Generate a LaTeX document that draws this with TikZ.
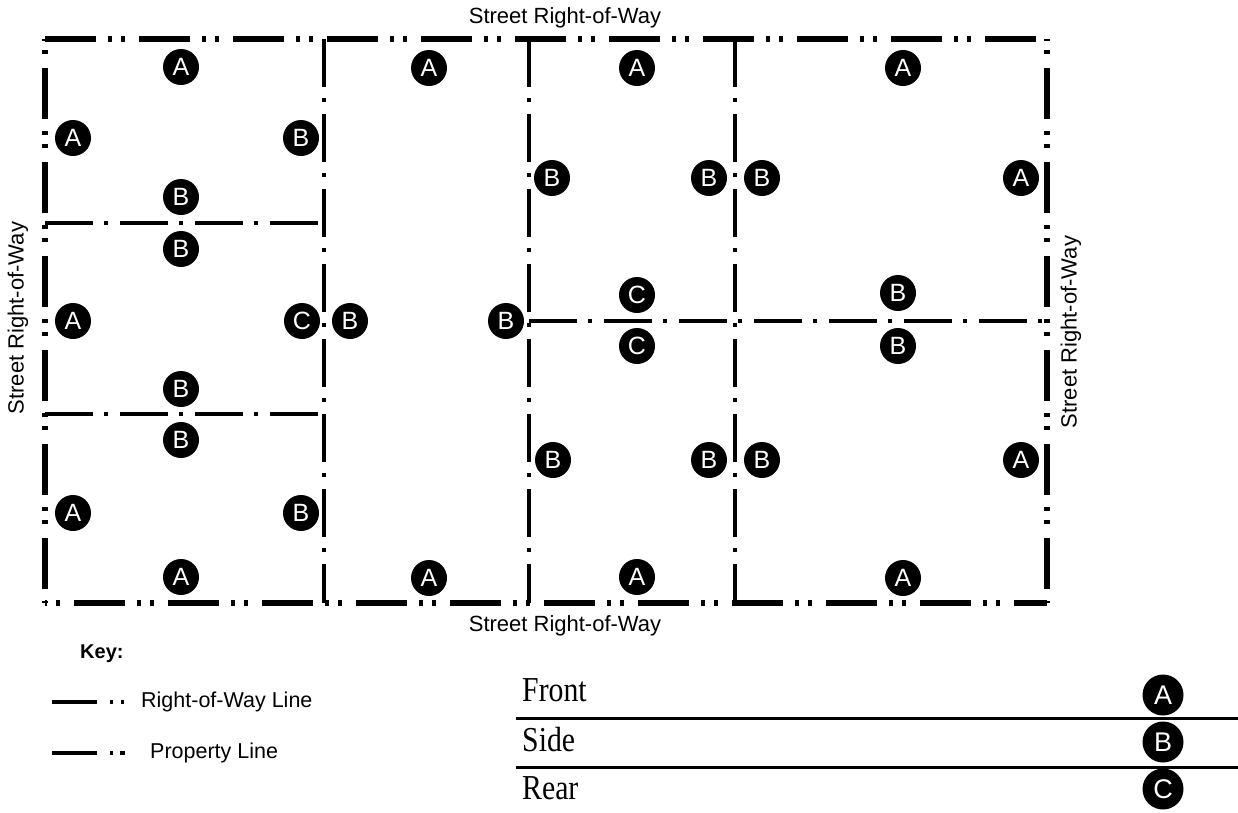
\documentclass[tikz,border=0pt]{standalone}
\usepackage{fontspec}
\setmainfont{Liberation Sans}
\newfontfamily\tabserif[FakeStretch=0.85]{Liberation Serif}
\usetikzlibrary{shapes.geometric}
\begin{document}
\begin{tikzpicture}[x=1pt,y=-1pt,
  rowline/.style={line width=5.5pt, dash pattern=on 51pt off 12pt on 4pt off 9pt on 4pt off 14pt},
  propline/.style={line width=3.8pt, dash pattern=on 48pt off 11pt on 4pt off 12pt},
  lbl/.style={circle, fill=black, text=white, minimum size=36pt, inner sep=0pt, font=\fontsize{25}{25}\selectfont},
  tlbl/.style={circle, fill=black, text=white, minimum size=41pt, inner sep=0pt, font=\fontsize{27}{27}\selectfont},
  street/.style={font=\fontsize{22}{22}\selectfont, inner sep=0pt},
  keytext/.style={font=\fontsize{21.5}{21.5}\selectfont, anchor=west, inner sep=0pt},
  tbl/.style={font=\tabserif\fontsize{35}{35}\selectfont, anchor=west, inner sep=0pt},
  tabrule/.style={line width=3pt}]
\useasboundingbox (0,0) rectangle (1238,812);

% corners and junctions
\coordinate (tl) at (45,39);
\coordinate (tr) at (1047,39);
\coordinate (bl) at (45,603);
\coordinate (br) at (1047,603);
\coordinate (t2) at (324,39);  \coordinate (b2) at (324,603);
\coordinate (t3) at (529,39);  \coordinate (b3) at (529,603);
\coordinate (t4) at (735,39);  \coordinate (b4) at (735,603);
\coordinate (l1) at (45,223);  \coordinate (m1) at (324,223);
\coordinate (l2) at (45,414);  \coordinate (m2) at (324,414);
\coordinate (m3) at (529,321); \coordinate (r3) at (1047,321);

% property lines
\draw[propline] (t2) -- (b2);
\draw[propline] (t3) -- (b3);
\draw[propline] (t4) -- (b4);
\draw[propline] (l1) -- (m1);
\draw[propline] (l2) -- (m2);
\draw[propline] (m3) -- (r3);

% right-of-way lines
\draw[rowline] (tl) -- (tr);
\draw[rowline, dash phase=65pt] (tl) -- (bl);
\draw[rowline, dash phase=65pt] (bl) -- (br);
\draw[rowline, dash phase=65pt] (tr) -- (br);

% street labels
\node[street] (st) at (565,18) {Street Right-of-Way};
\node[street] (sb) at (565,626) {Street Right-of-Way};
\node[street, rotate=90] (sl) at (18,318) {Street Right-of-Way};
\node[street, rotate=90] (sr) at (1071,332) {Street Right-of-Way};

% setback labels
\node[lbl] (a1) at (181,67) {A};
\node[lbl] (a2) at (429,68) {A};
\node[lbl] (a3) at (637,68) {A};
\node[lbl] (a4) at (903,68) {A};
\node[lbl] (a5) at (73,138) {A};
\node[lbl] (a6) at (73,321) {A};
\node[lbl] (a7) at (73,513) {A};
\node[lbl] (a8) at (1021,178) {A};
\node[lbl] (a9) at (1021,460) {A};
\node[lbl] (a10) at (181,577) {A};
\node[lbl] (a11) at (429,578) {A};
\node[lbl] (a12) at (637,577) {A};
\node[lbl] (a13) at (903,578) {A};

\node[lbl] (b1) at (301,138) {B};
\node[lbl] (b2) at (181,197) {B};
\node[lbl] (b3) at (181,249) {B};
\node[lbl] (b4) at (350,321) {B};
\node[lbl] (b5) at (506,321) {B};
\node[lbl] (b6) at (898,293) {B};
\node[lbl] (b7) at (898,346) {B};
\node[lbl] (b8) at (552,178) {B};
\node[lbl] (b9) at (709,178) {B};
\node[lbl] (b10) at (762,178) {B};
\node[lbl] (b11) at (181,389) {B};
\node[lbl] (b12) at (181,440) {B};
\node[lbl] (b13) at (301,513) {B};
\node[lbl] (b14) at (553,460) {B};
\node[lbl] (b15) at (709,460) {B};
\node[lbl] (b16) at (762,460) {B};

\node[lbl] (c1) at (302,321) {C};
\node[lbl] (c2) at (637,295) {C};
\node[lbl] (c3) at (637,346) {C};

% key
\node[font=\bfseries\fontsize{20}{20}\selectfont, anchor=west, inner sep=0pt] (key) at (80,654) {Key:};
\coordinate (k1s) at (52,702); \coordinate (k1e) at (126,702);
\coordinate (k2s) at (52,753); \coordinate (k2e) at (128,753);
\draw[line width=4pt, dash pattern=on 45pt off 13pt on 3pt off 8pt on 3pt off 20pt] (k1s) -- (k1e);
\draw[line width=3.5pt, dash pattern=on 45pt off 13pt on 3pt off 7pt on 5pt off 20pt] (k2s) -- (k2e);
\node[keytext] (k1t) at (141,702) {Right-of-Way Line};
\node[keytext] (k2t) at (150,753) {Property Line};

% table
\node[tbl] (front) at (522,690) {Front};
\node[tbl] (side) at (522,740) {Side};
\node[tbl] (rear) at (522,788) {Rear};
\coordinate (r1s) at (516,718); \coordinate (r1e) at (1238,718);
\coordinate (r2s) at (516,767); \coordinate (r2e) at (1238,767);
\draw[tabrule] (r1s) -- (r1e);
\draw[tabrule] (r2s) -- (r2e);
\node[tlbl] (ta) at (1163,695) {A};
\node[tlbl] (tb) at (1163,742) {B};
\node[tlbl] (tc) at (1163,789) {C};
\end{tikzpicture}
\end{document}
